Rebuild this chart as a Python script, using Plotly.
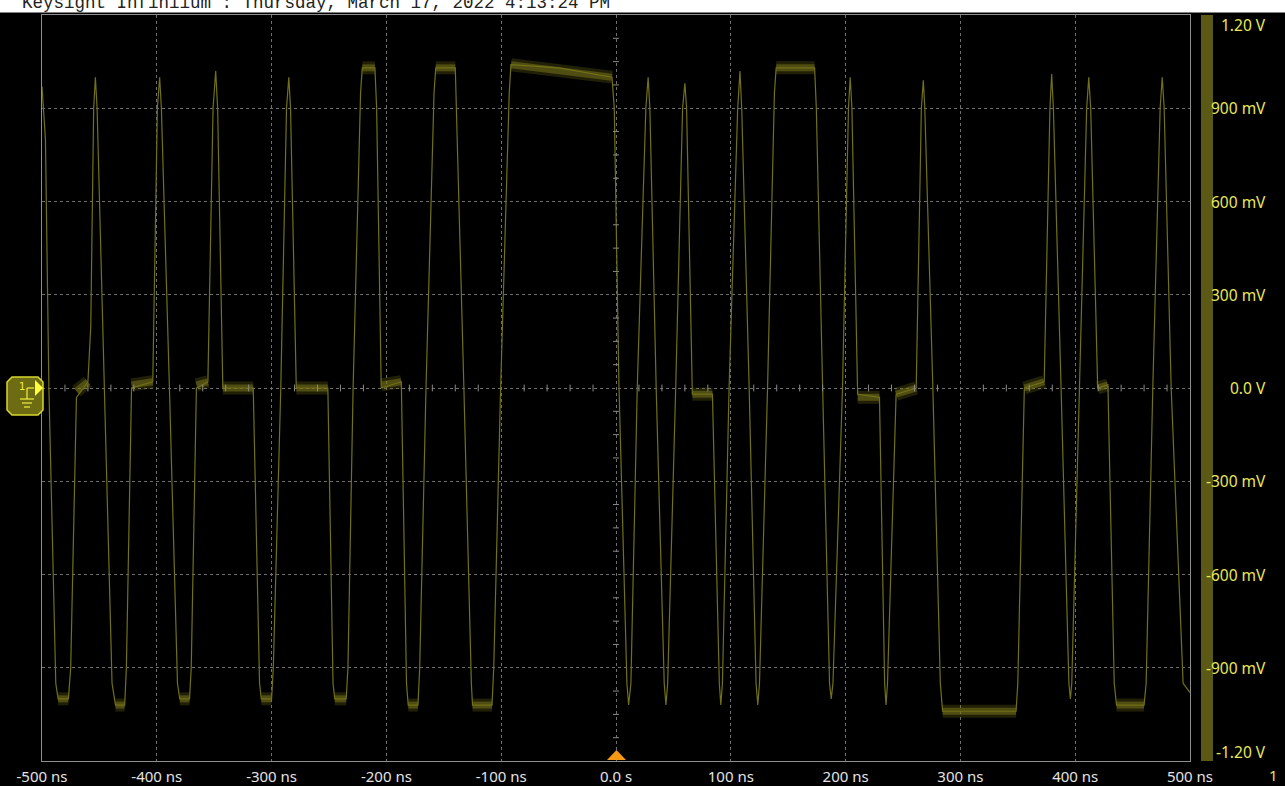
import plotly.graph_objects as go

# ---------------- data ----------------
time_ns = [
    -500, -497, -494, -488, -486, -477, -475, -470, -460, -457.5, -455, -453.5, -452,
    -445.5, -439, -436, -428, -426.5, -422, -403.5, -399.5, -397.5, -396,
    -389, -382, -380, -371.5, -370, -365.5, -355.5, -351, -348.7, -347,
    -342.5, -316, -310.5, -309, -300, -298.5, -292, -287, -285, -283.5,
    -278.5, -251, -246.5, -245, -235, -233.5, -229, -222.5, -221, -210, -208.5,
    -204.5, -187, -182.5, -181, -172.5, -171, -165.5, -158.5, -157, -140, -139,
    -132.5, -126, -125, -108, -106.5, -100.5, -93, -91.5, -50, -3.5, -1.5,
    2.5, 9.5, 11, 13, 18.5, 26, 28, 29.5, 35, 42, 43.5, 45, 52, 58, 60, 61.5,
    66.5, 84, 90, 91.3, 92.7, 98.5, 106, 108, 109.5, 116, 122, 123.5, 125,
    132, 138, 139.5, 173, 174.5, 180, 186, 187.5, 189, 197.3, 202.5, 204, 205.5,
    210.5, 229.5, 234, 235.2, 236.5, 244, 261.5, 266, 267.7, 269, 276, 282.5,
    284.5, 348.5, 350, 355.7, 373, 378, 379.5, 381, 387.7, 394.5, 395.8, 397,
    403.7, 410, 411.8, 413.5, 419.6, 428.5, 434, 436, 460, 461.8, 467.6, 474,
    475.8, 477.5, 483.6, 494, 500,
]
volts = [
    0.97, 0.80, 0.0, -0.95, -1.0, -1.0, -0.9, -0.03, 0.02, 0.2, 0.9, 1.0, 0.9,
    0.0, -0.95, -1.02, -1.02, -0.9, 0.0, 0.02, 0.9, 1.0, 0.9,
    0.0, -0.95, -1.0, -1.0, -0.9, 0.0, 0.02, 0.9, 1.02, 0.9,
    0.0, 0.0, -0.95, -1.0, -1.0, -0.9, 0.0, 0.9, 1.0, 0.9,
    0.0, 0.0, -0.95, -1.0, -1.0, -0.9, 0.0, 0.95, 1.03, 1.03, 0.9,
    0.0, 0.02, -0.95, -1.02, -1.02, -0.9, 0.0, 0.95, 1.03, 1.03, 0.9,
    0.0, -0.95, -1.02, -1.02, -0.9, 0.0, 0.95, 1.04, 1.03, 1.0, 0.9,
    0.02, -0.95, -1.02, -0.95, 0.0, 0.9, 1.0, 0.9, 0.0, -0.95, -1.02, -0.95, 0.0, 0.9, 0.98, 0.9,
    -0.02, -0.02, -0.95, -1.02, -0.95, 0.0, 0.9, 1.02, 0.9, 0.0, -0.95, -1.02, -0.95,
    0.0, 0.95, 1.03, 1.03, 0.9, 0.0, -0.95, -1.0, -0.95, 0.0, 0.9, 1.0, 0.9,
    -0.02, -0.03, -0.95, -1.02, -0.95, -0.02, 0.0, 0.9, 0.99, 0.9, 0.0, -0.95,
    -1.04, -1.04, -0.95, 0.0, 0.02, 0.9, 1.01, 0.9, 0.0, -0.95, -1.0, -0.95,
    0.0, 0.9, 1.0, 0.9, 0.0, 0.01, -0.95, -1.02, -1.02, -0.95, 0.0, 0.9,
    1.0, 0.9, 0.0, -0.95, -0.98,
]

# noisy flat parts of the trace: start / end time (ns), start / end level (V)
plateau_t0 = [-486, -436, -380, -309, -245, -181, -125, 284.5, 436,
              -470, -422, -365.5, -342.5, -278.5, -204.5, 66.5, 210.5, 244, 355.7, 419.6,
              -221, -157, -91.5, 139.5]
plateau_t1 = [-477, -428, -371.5, -300, -235, -172.5, -108, 348.5, 460,
              -460, -403.5, -355.5, -316, -251, -187, 84, 229.5, 261.5, 373, 428.5,
              -210, -140, -3.5, 173]
plateau_v0 = [-1.0, -1.02, -1.0, -1.0, -1.0, -1.02, -1.02, -1.04, -1.02,
              -0.01, 0.01, 0.01, 0.0, 0.0, 0.01, -0.02, -0.03, -0.02, 0.0, 0.0,
              1.03, 1.03, 1.04, 1.03]
plateau_v1 = [-1.0, -1.02, -1.0, -1.0, -1.0, -1.02, -1.02, -1.04, -1.02,
              0.02, 0.02, 0.02, 0.0, 0.0, 0.02, -0.02, -0.03, 0.0, 0.02, 0.01,
              1.03, 1.03, 1.0, 1.03]

x_tick_vals = [-500, -400, -300, -200, -100, 0, 100, 200, 300, 400, 500]
x_tick_text = ["-500 ns", "-400 ns", "-300 ns", "-200 ns", "-100 ns", "0.0 s",
               "100 ns", "200 ns", "300 ns", "400 ns", "500 ns"]
y_tick_vals = [1.2, 0.9, 0.6, 0.3, 0.0, -0.3, -0.6, -0.9, -1.2]
y_tick_text = ["1.20 V", "900 mV", "600 mV", "300 mV", "0.0 V",
               "-300 mV", "-600 mV", "-900 mV", "-1.20 V"]

header_text = "Keysight Infiniium : Thursday, March 17, 2022 4:13:24 PM"

# ---------------- layout helpers ----------------
W, H = 1285, 786
L, R, T, B = 42, 95, 15, 25
PW, PH = W - L - R, H - T - B


def px(x):
    return (x - L) / PW


def py(y):
    return (H - B - y) / PH


TRACE = "rgb(114,112,24)"
GRID = "#6f6f6f"
YEL = "#e8e85a"

fig = go.Figure()

# noise bands on flat parts (soft outer + denser inner band)
for width, col in [(13, "rgba(118,116,26,0.28)"), (7, "rgba(125,122,28,0.5)")]:
    for a, b, c, d in zip(plateau_t0, plateau_t1, plateau_v0, plateau_v1):
        fig.add_trace(go.Scatter(x=[a, b], y=[c, d], mode="lines",
                                 line=dict(color=col, width=width),
                                 hoverinfo="skip", showlegend=False))

# main waveform
fig.add_trace(go.Scatter(x=time_ns, y=volts, mode="lines",
                         line=dict(color=TRACE, width=1.2),
                         showlegend=False))

shapes = []
# minor ticks on centre axes
for k in range(-25, 26):
    t = k * 20
    if t % 100 == 0:
        continue
    shapes.append(dict(type="line", xref="x", yref="y", x0=t, x1=t,
                       y0=-0.011, y1=0.011, line=dict(color="#8a8a8a", width=1)))
for k in range(-16, 17):
    v = k * 0.075
    if k % 4 == 0:
        continue
    shapes.append(dict(type="line", xref="x", yref="y", x0=-2.6, x1=2.6,
                       y0=v, y1=v, line=dict(color="#8a8a8a", width=1)))

# white header bar
shapes.append(dict(type="rect", xref="paper", yref="paper", x0=px(0), x1=px(W),
                   y0=py(12.5), y1=py(-5), fillcolor="white", line=dict(width=0),
                   layer="above"))
# yellow channel bar at right
shapes.append(dict(type="rect", xref="paper", yref="paper", x0=px(1201), x1=px(1213),
                   y0=py(761), y1=py(15), fillcolor="#5b5915", line=dict(width=0)))
# trigger marker
shapes.append(dict(type="path", xref="paper", yref="paper",
                   path=f"M {px(607)} {py(760)} L {px(626)} {py(760)} L {px(616.5)} {py(750)} Z",
                   fillcolor="#f59a12", line=dict(width=0), layer="above"))
# channel 1 ground marker
shapes.append(dict(type="path", xref="paper", yref="paper",
                   path=(f"M {px(12)} {py(377)} L {px(38)} {py(377)} L {px(43)} {py(382)} "
                         f"L {px(43)} {py(410)} L {px(38)} {py(415)} L {px(12)} {py(415)} "
                         f"L {px(7)} {py(410)} L {px(7)} {py(382)} Z"),
                   fillcolor="#6e6c12", line=dict(color="#d6d630", width=1.5)))
shapes.append(dict(type="path", xref="paper", yref="paper",
                   path=f"M {px(35)} {py(380)} L {px(43)} {py(388)} L {px(35)} {py(396)} Z",
                   fillcolor="#ffff40", line=dict(width=0)))
for yy, x0, x1 in [(399, 20, 34), (403, 22, 32), (407, 24, 30)]:
    shapes.append(dict(type="line", xref="paper", yref="paper", x0=px(x0), x1=px(x1),
                       y0=py(yy), y1=py(yy), line=dict(color="#f0f040", width=1.2)))
shapes.append(dict(type="line", xref="paper", yref="paper", x0=px(27), x1=px(27),
                   y0=py(399), y1=py(388), line=dict(color="#f0f040", width=1.2)))
shapes.append(dict(type="line", xref="paper", yref="paper", x0=px(27), x1=px(34),
                   y0=py(388), y1=py(388), line=dict(color="#f0f040", width=1.2)))

annotations = []
annotations.append(dict(text=header_text, xref="paper", yref="paper",
                        x=px(20), y=py(3), xanchor="left", yanchor="middle",
                        showarrow=False,
                        font=dict(family="Liberation Mono", size=17.5, color="#222222")))
for v, s in zip(y_tick_vals, y_tick_text):
    shift = 0
    if v == max(y_tick_vals):
        shift = -10
    elif v == min(y_tick_vals):
        shift = 9
    annotations.append(dict(text=s, xref="paper", yref="y", x=px(1268), y=v,
                            xanchor="right", yanchor="middle", yshift=shift,
                            showarrow=False,
                            font=dict(family="Noto Sans", size=15.5, color=YEL)))
annotations.append(dict(text="1", xref="paper", yref="paper", x=px(1273), y=py(775),
                        xanchor="center", yanchor="middle", showarrow=False,
                        font=dict(family="Noto Sans", size=15, color=YEL)))
annotations.append(dict(text="1", xref="paper", yref="paper", x=px(22), y=py(386),
                        xanchor="center", yanchor="middle", showarrow=False,
                        font=dict(family="DejaVu Sans", size=10, color="#f0f040")))

fig.update_layout(
    width=W, height=H,
    margin=dict(l=L, r=R, t=T, b=B, pad=0, autoexpand=False),
    paper_bgcolor="black", plot_bgcolor="black",
    shapes=shapes, annotations=annotations,
    xaxis=dict(range=[-500, 500], tickvals=x_tick_vals, ticktext=x_tick_text,
               showgrid=True, gridcolor=GRID, griddash="dot", gridwidth=1,
               zeroline=False, showline=True, mirror=True, linecolor="#8e8e8e",
               linewidth=1, ticks="", ticklabelstandoff=2, automargin=False,
               tickfont=dict(family="Noto Sans", size=15, color="#e4e4e4"),
               fixedrange=True),
    yaxis=dict(range=[-1.2, 1.2], tickvals=y_tick_vals, showticklabels=False,
               showgrid=True, gridcolor=GRID, griddash="dot", gridwidth=1,
               zeroline=False, showline=True, mirror=True, linecolor="#8e8e8e",
               linewidth=1, ticks="", automargin=False, fixedrange=True),
    showlegend=False,
)

fig.write_html("out.html")
